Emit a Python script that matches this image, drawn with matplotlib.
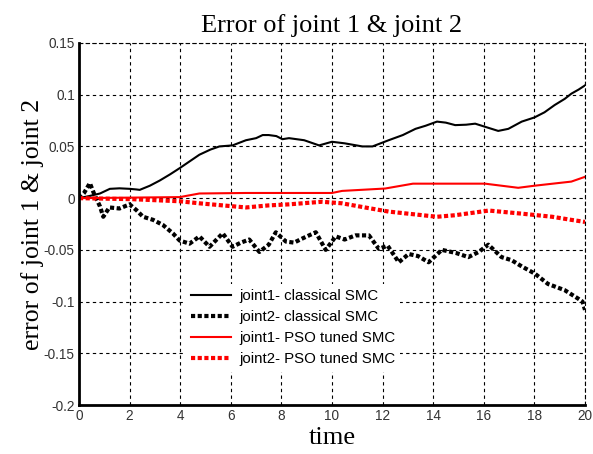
import matplotlib
matplotlib.use("Agg")
import matplotlib.pyplot as plt

# joint1 classical SMC (black solid)
t_j1c = [0, 0.4, 0.83, 1.22, 1.6, 2.0, 2.27, 2.4, 2.8, 3.19, 3.6, 3.98, 4.4, 4.76, 5.2, 5.55, 6.07, 6.6, 7.0,
         7.26, 7.5, 7.8, 8.04, 8.3, 8.9, 9.49, 10.0, 10.5, 11.2, 11.6, 12.24, 12.8, 13.3, 13.7, 14.15, 14.5,
         14.87, 15.3, 15.66, 16.05, 16.57, 16.97, 17.5, 18.0, 18.4, 18.8, 19.2, 19.46, 19.75, 20.0]
y_j1c = [0, 0.002, 0.0045, 0.009, 0.0095, 0.009, 0.0084, 0.008, 0.012, 0.017, 0.023, 0.029, 0.036, 0.042, 0.047,
         0.050, 0.051, 0.056, 0.058, 0.061, 0.061, 0.060, 0.057, 0.058, 0.056, 0.051, 0.0545, 0.053, 0.050, 0.050,
         0.056, 0.061, 0.067, 0.070, 0.074, 0.073, 0.0706, 0.071, 0.072, 0.069, 0.065, 0.067, 0.074, 0.078, 0.083,
         0.090, 0.096, 0.101, 0.105, 0.109]

# joint2 classical SMC (black dotted)
t_j2c = [0, 0.2, 0.43, 0.6, 0.83, 0.96, 1.2, 1.6, 2.0, 2.27, 2.53, 2.93, 3.32, 3.71, 3.98, 4.37, 4.76, 5.16,
         5.68, 6.07, 6.4, 6.73, 7.13, 7.5, 7.78, 8.18, 8.5, 8.83, 9.36, 9.75, 10.15, 10.5, 10.93, 11.46, 11.85,
         12.2, 12.64, 13.03, 13.4, 13.82, 14.34, 14.9, 15.39, 15.8, 16.18, 16.7, 17.1, 17.5, 18.02, 18.54,
         19.2, 19.72, 19.9, 20.0]
y_j2c = [0, 0.005, 0.0145, 0.004, -0.008, -0.018, -0.009, -0.010, -0.006, -0.0116, -0.018, -0.021, -0.026,
         -0.034, -0.041, -0.044, -0.037, -0.047, -0.034, -0.047, -0.043, -0.040, -0.052, -0.045, -0.033, -0.042,
         -0.043, -0.039, -0.033, -0.050, -0.037, -0.040, -0.036, -0.036, -0.049, -0.046, -0.062, -0.054, -0.056,
         -0.062, -0.050, -0.053, -0.057, -0.052, -0.045, -0.057, -0.060, -0.066, -0.073, -0.083, -0.089,
         -0.097, -0.100, -0.108]

# joint1 PSO tuned SMC (red solid)
t_j1p = [0, 2.0, 3.98, 4.76, 6.6, 8.3, 10.0, 10.4, 12.1, 13.2, 16.05, 17.36, 18.0, 19.46, 20.0]
y_j1p = [0, 0.0005, 0.001, 0.0045, 0.005, 0.005, 0.005, 0.007, 0.0093, 0.014, 0.014, 0.010, 0.012, 0.016, 0.0206]

# joint2 PSO tuned SMC (red dotted)
t_j2p = [0, 2.1, 3.98, 4.76, 6.6, 7.5, 8.3, 9.6, 10.4, 11.3, 12.24, 14.15, 14.87, 16.2, 17.5, 18.7, 19.46, 20.0]
y_j2p = [0, -0.001, -0.003, -0.005, -0.009, -0.007, -0.006, -0.0035, -0.005, -0.009, -0.013, -0.018, -0.0165,
         -0.012, -0.015, -0.018, -0.021, -0.023]

x_ticks = [0, 2, 4, 6, 8, 10, 12, 14, 16, 18, 20]
y_ticks = [-0.2, -0.15, -0.1, -0.05, 0, 0.05, 0.1, 0.15]
y_ticklabels = ["-0.2", "-0.15", "-0.1", "-0.05", "0", "0.05", "0.1", "0.15"]

fig = plt.figure(figsize=(5.93, 4.54), dpi=100)
ax = fig.add_axes([0.1332, 0.1079, 0.8533, 0.7974])

ax.plot(t_j1c, y_j1c, color="black", lw=1.5, label="joint1- classical SMC")
ax.plot(t_j2c, y_j2c, color="black", lw=3, linestyle=(0, (1, 0.6)), label="joint2- classical SMC")
ax.plot(t_j1p, y_j1p, color="red", lw=1.5, label="joint1- PSO tuned SMC")
ax.plot(t_j2p, y_j2p, color="red", lw=3, linestyle=(0, (1, 0.6)), label="joint2- PSO tuned SMC")

ax.set_xlim(0, 20)
ax.set_ylim(-0.2, 0.15)
ax.set_xticks(x_ticks)
ax.set_yticks(y_ticks)
ax.set_yticklabels(y_ticklabels)
ax.grid(True, color="black", linestyle=(0, (3, 3)), linewidth=0.8)
ax.set_axisbelow(True)

for s in ["left", "bottom"]:
    ax.spines[s].set_linewidth(2)
for s in ["top", "right"]:
    ax.spines[s].set_linestyle((0, (3, 3)))
    ax.spines[s].set_linewidth(0.8)

ax.tick_params(direction="in", length=0, labelsize=9.8, colors="#333333", pad=3)
for lab in ax.get_xticklabels() + ax.get_yticklabels():
    lab.set_family("Liberation Sans")

serif = "Liberation Serif"
ax.set_title("Error of joint 1 & joint 2", family=serif, fontsize=19, pad=8)
ax.set_xlabel("time", family=serif, fontsize=19, labelpad=3)
ax.set_ylabel("error of joint 1 & joint 2", family=serif, fontsize=18.5, labelpad=0)

leg = ax.legend(loc="upper left", bbox_to_anchor=(0.196, 0.356), frameon=True, edgecolor="none",
                facecolor="white", framealpha=1, fancybox=False, prop={"family": "Liberation Sans", "size": 10.8},
                handlelength=2.7, handletextpad=0.5, labelspacing=0.48, borderpad=0.35)

fig.savefig("out.png", dpi=100)
